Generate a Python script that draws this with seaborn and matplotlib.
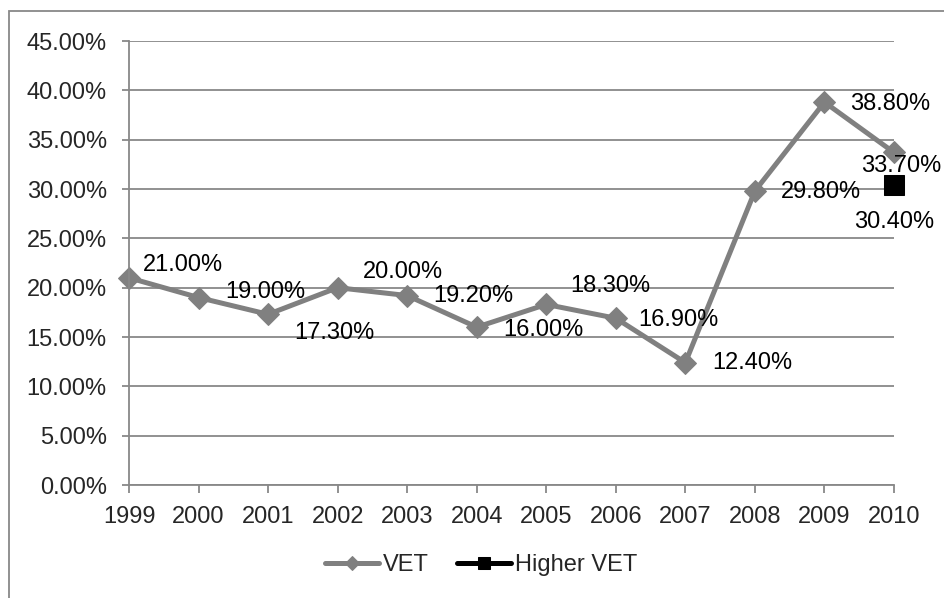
import pandas as pd
import matplotlib.pyplot as plt
import matplotlib.patches as mpatches
import seaborn as sns

# data
years = [1999, 2000, 2001, 2002, 2003, 2004, 2005, 2006, 2007, 2008, 2009, 2010]
vet = [21.0, 19.0, 17.3, 20.0, 19.2, 16.0, 18.3, 16.9, 12.4, 29.8, 38.8, 33.7]
higher_years = [2010]
higher_vet = [30.4]

# label offsets in pixels (left edge of text, vertical centre), down positive
vet_offsets = [(14, -13), (27, -6), (26, 19), (25, -16), (26, 0), (27, 3),
               (24, -18), (22, 2), (27, 0), (26, 1), (26, 2), (-33, 14)]
higher_offsets = [(-40, 37)]

sns.set_style("white")
plt.rcParams['font.family'] = ['Liberation Sans', 'DejaVu Sans']

grey = "#808080"
axis_grey = "#888888"
fs = 17

fig = plt.figure(figsize=(9.44, 5.98), dpi=100)
ax = fig.add_axes([129/944, 1-485/598, (894-129)/944, (485-41)/598])

df_vet = pd.DataFrame({"year": years, "value": vet})
df_high = pd.DataFrame({"year": higher_years, "value": higher_vet})

sns.lineplot(data=df_vet, x="year", y="value", ax=ax, color=grey, lw=3.6,
             marker="D", markersize=11, markeredgecolor=grey, label="VET")
sns.lineplot(data=df_high, x="year", y="value", ax=ax, color="black", lw=3.6,
             marker="s", markersize=14, markeredgecolor="black", label="Higher VET")
for line in ax.lines:
    line.set_clip_on(False)

for x, y, (dx, dy) in zip(years, vet, vet_offsets):
    ax.annotate(f"{y:.2f}%", (x, y), xytext=(dx, -dy), textcoords="offset pixels",
                ha="left", va="center", fontsize=fs, color="black")
for x, y, (dx, dy) in zip(higher_years, higher_vet, higher_offsets):
    ax.annotate(f"{y:.2f}%", (x, y), xytext=(dx, -dy), textcoords="offset pixels",
                ha="left", va="center", fontsize=fs, color="black")

ax.set_xlim(1999, 2010)
ax.set_ylim(0, 45)
ax.set_xticks(years)
ax.set_xticklabels([str(y) for y in years])
ax.set_yticks([0, 5, 10, 15, 20, 25, 30, 35, 40, 45])
ax.set_yticklabels([f"{v:.2f}%" for v in range(0, 50, 5)])
ax.set_xlabel("")
ax.set_ylabel("")
ax.yaxis.grid(True, color=axis_grey, lw=1.3)
ax.set_axisbelow(True)
for s in ["top", "right"]:
    ax.spines[s].set_visible(False)
for s in ["left", "bottom"]:
    ax.spines[s].set_color(axis_grey)
    ax.spines[s].set_linewidth(1.3)
ax.tick_params(axis="y", length=5, width=1.3, color=axis_grey, pad=11, labelsize=fs, left=True)
ax.tick_params(axis="x", length=6, width=1.3, color=axis_grey, pad=9, labelsize=fs, bottom=True)

ax.get_legend().remove()
handles, labels = ax.get_legend_handles_labels()
leg = fig.legend(handles, labels, loc="center", bbox_to_anchor=(481/944, 1-565/598),
                 ncol=2, frameon=False, fontsize=fs, handlelength=2.3,
                 handletextpad=0.15, columnspacing=1.2, markerscale=0.65)

# outer chart border (only top and left visible in the crop)
fig.patches.append(mpatches.Rectangle((9/944, -0.1), 1.2, 1.1 - 11/598, transform=fig.transFigure,
                                      fill=False, edgecolor=axis_grey, lw=1.3))

plt.savefig("out.png", dpi=100)
plt.close()
